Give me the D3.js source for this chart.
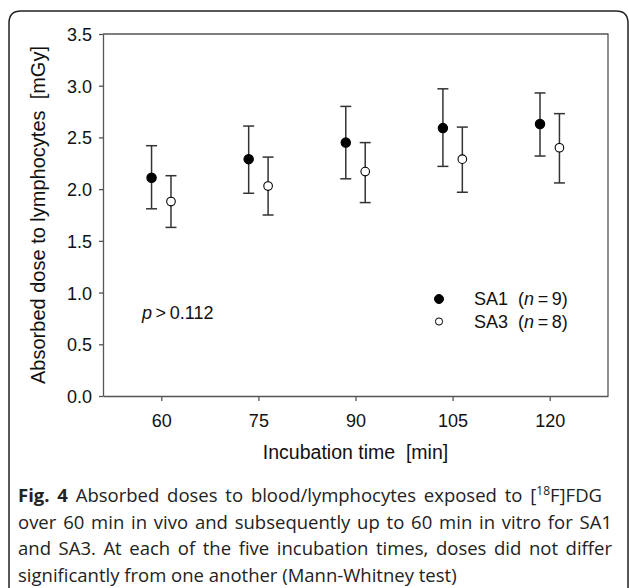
<!DOCTYPE html>
<html>
<head>
<meta charset="utf-8">
<script src="https://cdn.jsdelivr.net/npm/d3@7"></script>
<style>
  body { margin: 0; background: #fff; }
  svg { display: block; }
  .axis text { font-family: "Liberation Sans", Arial, sans-serif; font-size: 18px; fill: #111; }
  .axis line, .axis path { stroke: #555; stroke-width: 1.3; }
</style>
</head>
<body>
<div class="chart"></div>
<script>
// incubation times [min]
const times = [60, 75, 90, 105, 120]

// SA1 (n = 9): mean and error bar ends
const sa1Mean = [2.11, 2.29, 2.45, 2.59, 2.63]
const sa1Upper = [2.42, 2.61, 2.80, 2.97, 2.93]
const sa1Lower = [1.81, 1.96, 2.10, 2.22, 2.32]

// SA3 (n = 8)
const sa3Mean = [1.88, 2.03, 2.17, 2.29, 2.40]
const sa3Upper = [2.13, 2.31, 2.45, 2.60, 2.73]
const sa3Lower = [1.63, 1.75, 1.87, 1.97, 2.06]

const yTicks = [0, 0.5, 1.0, 1.5, 2.0, 2.5, 3.0, 3.5]

const width = 629
const height = 588

const margin = { top: 34, left: 103, right: 21, bottom: 192 }
const innerWidth = width - margin.left - margin.right
const innerHeight = height - margin.top - margin.bottom

const svg = d3.select('.chart')
  .append('svg')
  .attr('width', width)
  .attr('height', height)

// rounded frame round the whole figure, open at the bottom
svg.append('path')
  .attr('d', 'M9,588 L9,23 Q9,11 21,11 L616,11 Q628,11 628,23 L628,588')
  .attr('fill', 'none')
  .attr('stroke', '#222')
  .attr('stroke-width', 1.5)

const g = svg.append('g')
  .attr('transform', `translate(${margin.left},${margin.top})`)

const x = d3.scaleLinear()
  .domain([51, 129])
  .range([0, innerWidth])

const y = d3.scaleLinear()
  .domain([0, 3.5])
  .range([innerHeight, 0])

// offset of the two groups either side of each tick
const shift = 1.5

// top and right frame of the plot
g.append('path')
  .attr('d', `M0,0 H${innerWidth} V${innerHeight}`)
  .attr('fill', 'none')
  .attr('stroke', '#555')
  .attr('stroke-width', 1.3)

g.append('g')
  .attr('class', 'axis axis--x')
  .attr('transform', `translate(0,${innerHeight})`)
  .call(d3.axisBottom(x).tickValues(times).tickSize(5).tickSizeOuter(0).tickPadding(13))

g.append('g')
  .attr('class', 'axis axis--y')
  .call(d3.axisLeft(y).tickValues(yTicks).tickFormat(d3.format('.1f')).tickSize(4).tickSizeOuter(0).tickPadding(7))

g.selectAll('.axis--y text').attr('dy', '0.36em')
g.selectAll('.axis--x text').attr('dy', '0.71em')

function drawSeries(mean, upper, lower, dx, filled) {
  const data = times.map((t, i) => ({ t: t + dx, m: mean[i], hi: upper[i], lo: lower[i] }))
  const bars = g.append('g')
    .attr('stroke', '#333')
    .attr('stroke-width', 1.5)

  bars.selectAll('.whisker')
    .data(data)
    .join('line')
    .attr('x1', d => x(d.t))
    .attr('x2', d => x(d.t))
    .attr('y1', d => y(d.hi))
    .attr('y2', d => y(d.lo))

  bars.selectAll('.capTop')
    .data(data)
    .join('line')
    .attr('x1', d => x(d.t) - 5.5)
    .attr('x2', d => x(d.t) + 5.5)
    .attr('y1', d => y(d.hi))
    .attr('y2', d => y(d.hi))

  bars.selectAll('.capBottom')
    .data(data)
    .join('line')
    .attr('x1', d => x(d.t) - 5.5)
    .attr('x2', d => x(d.t) + 5.5)
    .attr('y1', d => y(d.lo))
    .attr('y2', d => y(d.lo))

  g.append('g').selectAll('circle')
    .data(data)
    .join('circle')
    .attr('cx', d => x(d.t))
    .attr('cy', d => y(d.m))
    .attr('r', filled ? 4.7 : 4.3)
    .attr('fill', filled ? '#000' : '#fff')
    .attr('stroke', '#000')
    .attr('stroke-width', 1.1)
}

drawSeries(sa1Mean, sa1Upper, sa1Lower, -shift, true)
drawSeries(sa3Mean, sa3Upper, sa3Lower, shift, false)

const labelFont = '"Liberation Sans", Arial, sans-serif'

// p value
const pText = g.append('text')
  .attr('x', 39)
  .attr('y', 285)
  .attr('font-family', labelFont)
  .attr('font-size', 18)
  .attr('fill', '#111')
pText.append('tspan').attr('font-style', 'italic').text('p')
pText.append('tspan').text('\u2009>\u20090.112')

// legend
const legend = g.append('g').attr('transform', 'translate(336,0)')
const legendItems = [
  { name: 'SA1', n: 9, filled: true, cy: 265 },
  { name: 'SA3', n: 8, filled: false, cy: 287.5 }
]
legendItems.forEach(d => {
  legend.append('circle')
    .attr('cx', 0)
    .attr('cy', d.cy)
    .attr('r', d.filled ? 4.5 : 3.6)
    .attr('fill', d.filled ? '#000' : '#fff')
    .attr('stroke', '#000')
    .attr('stroke-width', 1)
  const t = legend.append('text')
    .attr('x', 35)
    .attr('y', d.cy + 6)
    .attr('font-family', labelFont)
    .attr('font-size', 18)
    .attr('fill', '#111')
    .attr('xml:space', 'preserve')
  t.append('tspan').text(`${d.name}  (`)
  t.append('tspan').attr('font-style', 'italic').text('n')
  t.append('tspan').text(`\u2009=\u2009${d.n})`)
})

// axis titles
g.append('text')
  .attr('x', x(90))
  .attr('y', innerHeight + 63)
  .attr('text-anchor', 'middle')
  .attr('font-family', labelFont)
  .attr('font-size', 19.5)
  .attr('fill', '#111')
  .attr('xml:space', 'preserve')
  .text('Incubation time  [min]')

g.append('text')
  .attr('transform', `translate(-58,${innerHeight / 2}) rotate(-90)`)
  .attr('text-anchor', 'middle')
  .attr('font-family', labelFont)
  .attr('font-size', 20)
  .attr('fill', '#111')
  .attr('xml:space', 'preserve')
  .text('Absorbed dose to lymphocytes  [mGy]')

// figure caption, lines justified to the right margin except the last
const captionFont = '"Open Sans", "Noto Sans", sans-serif'
const captionLeft = 18
const captionRight = 612
const caption = svg.append('g')
  .attr('font-family', captionFont)
  .attr('font-size', 18.5)
  .attr('fill', '#222')

const line1 = caption.append('text').attr('x', captionLeft).attr('y', 502)
line1.append('tspan').attr('font-weight', 'bold').text('Fig. 4')
line1.append('tspan').text(' Absorbed doses to blood/lymphocytes exposed to [')
line1.append('tspan').attr('font-size', 12).attr('dy', -7).text('18')
line1.append('tspan').attr('dy', 7).text('F]FDG')

const captionLines = [
  'over 60 min in vivo and subsequently up to 60 min in vitro for SA1',
  'and SA3. At each of the five incubation times, doses did not differ',
  'significantly from one another (Mann-Whitney test)'
]
caption.selectAll('.capline')
  .data(captionLines)
  .join('text')
  .attr('class', 'capline')
  .attr('x', captionLeft)
  .attr('y', (d, i) => 528.5 + i * 26.5)
  .text(d => d)

function justify(sel, spaces) {
  const w = sel.node().getComputedTextLength()
  const extra = Math.max(-1.5, Math.min(3, (captionRight - captionLeft - w) / spaces))
  sel.attr('word-spacing', extra)
}
justify(line1, 8)
caption.selectAll('.capline').filter((d, i) => i < 2)
  .each(function(d) { justify(d3.select(this), d.split(' ').length - 1) })
</script>
</body>
</html>
